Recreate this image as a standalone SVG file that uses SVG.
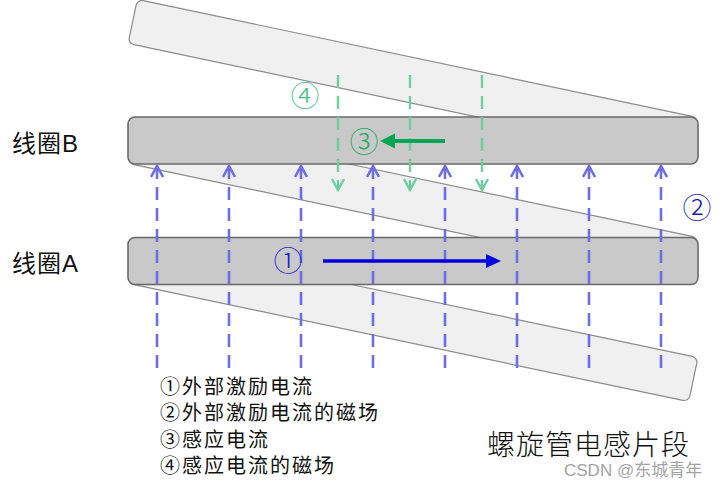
<svg xmlns="http://www.w3.org/2000/svg" width="720" height="488" viewBox="0 0 720 488">
<defs>
<style>
.strip{fill:#f0f0f0;stroke:#8c8c8c;stroke-width:1.2}
.coil{fill:#c9c9c9;stroke:#6a6a6a;stroke-width:1.6}
.bl{stroke:#6e6ee2;stroke-width:2.6;fill:none}
.bd{stroke-dasharray:13 8}
.gr{stroke:#6ccf9e;stroke-width:2.4;fill:none}
.gd{stroke-dasharray:13 8}
.lbl{font-family:"Liberation Sans","Noto Sans CJK SC",sans-serif;fill:#111;font-size:24px;letter-spacing:1px}
.num{font-family:"Noto Sans CJK SC",sans-serif;font-size:29px;font-weight:300;text-anchor:middle;dominant-baseline:central}
.leg{font-family:"Liberation Sans","Noto Sans CJK SC",sans-serif;font-size:20px;letter-spacing:2px;fill:#111}
</style>
</defs>
<rect width="720" height="488" fill="#ffffff"/>
<g id="strip-top"><rect class="strip" x="-286.5" y="-22.5" width="573" height="45" rx="6" transform="translate(413,80.5) rotate(11.9)"/></g>
<g id="strip-mid"><rect class="strip" x="-286.5" y="-22.5" width="573" height="45" rx="6" transform="translate(413,200.5) rotate(11.9)"/></g>
<g id="strip-bot"><rect class="strip" x="-286.5" y="-22.5" width="573" height="45" rx="6" transform="translate(413,320.5) rotate(11.9)"/></g>
<g id="coil-B"><rect class="coil" x="128" y="117" width="570" height="47" rx="7"/><text class="lbl" x="12" y="152">线圈B</text></g>
<g id="coil-A"><rect class="coil" x="128" y="237.5" width="570" height="47" rx="7"/><text class="lbl" x="12" y="272">线圈A</text></g>
<g id="connectors">
<g id="field-A">
<path class="bl bd" d="M157 368V167M229 368V167M301 368V167M373 368V167M445 368V167M517 368V167M589 368V167M661 368V167"/>
<path class="bl" d="M151 177L157 166L163 177M223 177L229 166L235 177M295 177L301 166L307 177M367 177L373 166L379 177M439 177L445 166L451 177M511 177L517 166L523 177M583 177L589 166L595 177M655 177L661 166L667 177"/>
</g>
<g id="field-B">
<path class="gr gd" d="M338 75V189M410 75V189M482 75V189"/>
<path class="gr" d="M332 179L338 190L344 179M404 179L410 190L416 179M476 179L482 190L488 179"/>
</g>
<g id="current-A"><path d="M323 261H488" stroke="#0000e0" stroke-width="3.6"/><path d="M501 261L486 254V268Z" fill="#0000e0"/></g>
<g id="current-B"><path d="M445 141H392" stroke="#00a651" stroke-width="4.2"/><path d="M380 141L395 133.5V148.5Z" fill="#00a651"/></g>
</g>
<g id="marks">
<text class="num" x="288" y="259" fill="#1a1ad0">①</text>
<text class="num" x="697" y="206" fill="#1a1ab0">②</text>
<text class="num" x="364" y="140" fill="#22a860">③</text>
<text class="num" x="305" y="94" fill="#3fbf85">④</text>
</g>
<g id="legend">
<text class="leg" x="160" y="394">①外部激励电流</text>
<text class="leg" x="160" y="420">②外部激励电流的磁场</text>
<text class="leg" x="160" y="447">③感应电流</text>
<text class="leg" x="160" y="473">④感应电流的磁场</text>
</g>
<g id="title"><text x="487" y="455" font-family="Liberation Sans,Noto Sans CJK SC,sans-serif" font-size="28" font-weight="300" letter-spacing="1" fill="#111">螺旋管电感片段</text></g>
<text x="564" y="476" font-family="Liberation Sans,Noto Sans CJK SC,sans-serif" font-size="17" fill="#a3a3a3">CSDN @东城青年</text>
</svg>
